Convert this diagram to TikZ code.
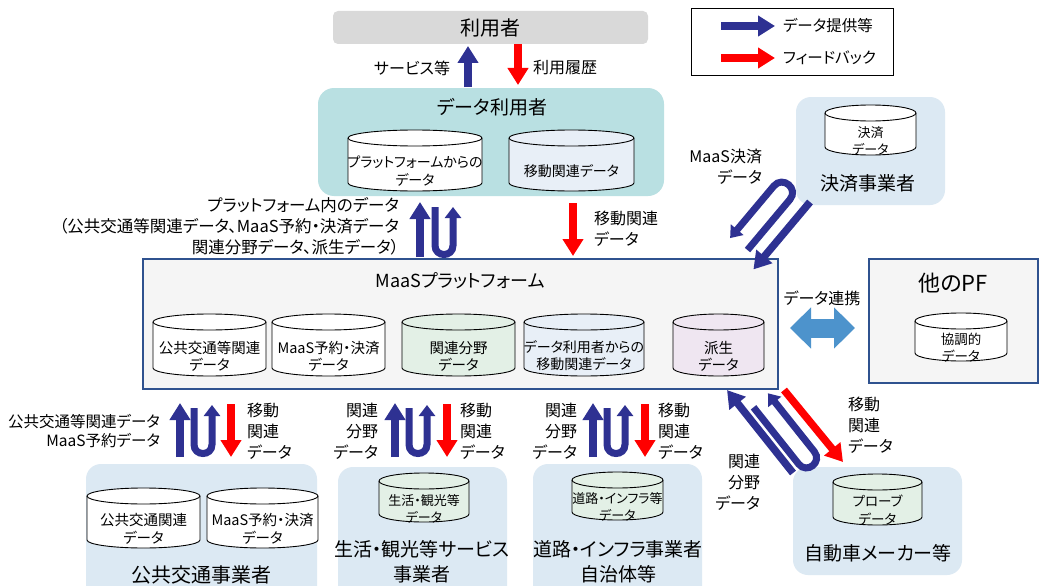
\documentclass[tikz,border=0pt]{standalone}
\usepackage{fontspec}
\setmainfont{Noto Sans CJK JP}[RawFeature=+palt]
\usetikzlibrary{arrows.meta}
\definecolor{navy}{RGB}{46,49,146}
\definecolor{redA}{RGB}{255,0,0}
\definecolor{usergray}{RGB}{217,217,217}
\definecolor{tealfill}{RGB}{185,224,226}
\definecolor{lblue}{RGB}{220,233,243}
\definecolor{pffill}{RGB}{245,245,245}
\definecolor{pfedge}{RGB}{47,82,143}
\definecolor{cylblue}{RGB}{232,239,247}
\definecolor{cylgreen}{RGB}{227,240,230}
\definecolor{cylpurple}{RGB}{239,230,241}
\definecolor{dblue}{RGB}{77,147,204}
\newcommand\dbcyl[8]{%
 \filldraw[cylline,fill=#6] ({#2-#5},{#3+8}) -- ({#2-#5},{#4-8}) arc[start angle=180,end angle=360,x radius=#5pt,y radius=8pt] -- ({#2+#5},{#3+8}) arc[start angle=0,end angle=180,x radius=#5pt,y radius=8pt] -- cycle;
 \draw[cylline] ({#2-#5},{#3+8}) arc[start angle=180,end angle=360,x radius=#5pt,y radius=8pt];
 \node[align=center,font=#7] (#1) at (#2,{(#3+16+#4)/2+3}) {#8};
}
\begin{document}
\begin{tikzpicture}[x=1pt,y=-1pt,
  every node/.style={inner sep=0pt,outer sep=0pt},
  cylline/.style={draw=black,line width=0.9pt},
  rbox/.style={draw=none,rounded corners=15pt},
  pfbox/.style={draw=pfedge,fill=pffill,line width=1.2pt},
  lbl/.style={font=\fontsize{16}{21}\selectfont},
  ttl/.style={font=\fontsize{19}{25}\selectfont,align=center},
  bArrow/.style={draw=navy,line width=7.5pt,-{Triangle[width=20pt,length=17pt]}},
  rArrow/.style={draw=redA,line width=7.5pt,-{Triangle[width=20pt,length=17pt]}},
  uArrow/.style={draw=navy,line width=7pt,-{Triangle[width=16pt,length=11pt]}},
  uLine/.style={draw=navy,line width=7pt}]
\useasboundingbox (0,0) rectangle (1041,586);
\fill[white] (0,0) rectangle (1041,586);

% ---------- containers ----------
\node[rbox,fill=usergray,rounded corners=5pt,minimum width=315pt,minimum height=33pt] (userBox) at (490.5,27.5) {};
\node[font=\fontsize{20}{24}\selectfont] (userT) at (490,28) {利用者};

\node[rbox,fill=tealfill,rounded corners=16pt,minimum width=346pt,minimum height=108pt] (duBox) at (491,142) {};
\node[ttl] (duT) at (492,107) {データ利用者};

\node[draw=black,line width=0.9pt,minimum width=202pt,minimum height=67pt] (legend) at (792,41.5) {};

\node[rbox,fill=lblue,minimum width=149pt,minimum height=108pt] (kBox) at (870.5,151) {};
\node[ttl] (kT) at (868,183) {決済事業者};

\node[pfbox,minimum width=635pt,minimum height=130pt] (pf) at (460.5,324) {};
\node[font=\fontsize{18}{22}\selectfont] (pfT) at (460,281) {MaaSプラットフォーム};

\node[pfbox,minimum width=169pt,minimum height=124pt] (opf) at (953.5,321) {};
\node[font=\fontsize{22}{26}\selectfont] (opfT) at (953,283) {他のPF};

\node[rbox,fill=lblue,minimum width=231pt,minimum height=140pt] (b1Box) at (201.5,534) {};
\node[font=\fontsize{20}{24}\selectfont] (b1T) at (201,575) {公共交通事業者};

\node[rbox,fill=lblue,minimum width=169pt,minimum height=140pt] (b2Box) at (422.5,537) {};
\node[ttl] (b2T) at (422,562) {生活・観光等サービス\\事業者};

\node[rbox,fill=lblue,minimum width=169pt,minimum height=140pt] (b3Box) at (617.5,534) {};
\node[ttl] (b3T) at (618,562) {道路・インフラ事業者\\自治体等};

\node[rbox,fill=lblue,minimum width=169pt,minimum height=108pt] (b4Box) at (877.5,521) {};
\node[ttl] (b4T) at (878,553) {自動車メーカー等};

% ---------- cylinders ----------
\dbcyl{dA}{415}{130}{191}{67}{white}{\fontsize{14}{18}\selectfont}{プラットフォームからの\\データ}
\dbcyl{dB}{571.5}{130}{191}{62.5}{cylblue}{\fontsize{14}{18}\selectfont}{移動関連データ}
\dbcyl{kC}{870.5}{105}{155}{45.5}{white}{\fontsize{13}{17}\selectfont}{決済\\データ}
\dbcyl{p1}{209.5}{314}{376}{56.5}{white}{\fontsize{14.5}{17}\selectfont}{公共交通等関連\\データ}
\dbcyl{p2}{328.5}{314}{376}{56.5}{white}{\fontsize{14.5}{17}\selectfont}{MaaS予約・決済\\データ}
\dbcyl{p3}{458.5}{314}{376}{56.5}{cylgreen}{\fontsize{14.5}{17}\selectfont}{関連分野\\データ}
\dbcyl{p4}{584}{314}{376}{60}{cylblue}{\fontsize{14}{17}\selectfont}{データ利用者からの\\移動関連データ}
\dbcyl{p5}{718.5}{314}{376}{45.5}{cylpurple}{\fontsize{14.5}{17}\selectfont}{派生\\データ}
\dbcyl{oC}{961}{313}{361}{46}{white}{\fontsize{13.5}{17}\selectfont}{協調的\\データ}
\dbcyl{bc1}{143.5}{488}{548}{56.5}{white}{\fontsize{14.5}{18}\selectfont}{公共交通関連\\データ}
\dbcyl{bc2}{262.5}{488}{548}{55.5}{white}{\fontsize{14.5}{18}\selectfont}{MaaS予約・決済\\データ}
\dbcyl{bc3}{424}{473}{522}{45}{cylgreen}{\fontsize{13}{17}\selectfont}{生活・観光等\\データ}
\dbcyl{bc4}{617.5}{472}{520}{45.5}{cylgreen}{\fontsize{13}{17}\selectfont}{道路・インフラ等\\データ}
\dbcyl{bc5}{877.5}{474}{525}{44.5}{cylgreen}{\fontsize{13.5}{18}\selectfont}{プローブ\\データ}

% ---------- legend ----------
\coordinate (lg1s) at (721,26); \coordinate (lg1e) at (775,26);
\coordinate (lg2s) at (721,58); \coordinate (lg2e) at (775,58);
\draw[bArrow] (lg1s) -- (lg1e);
\draw[rArrow] (lg2s) -- (lg2e);
\node[font=\fontsize{15.5}{19}\selectfont,anchor=west] (lgT1) at (783,26) {データ提供等};
\node[font=\fontsize{15.5}{19}\selectfont,anchor=west] (lgT2) at (783,58) {フィードバック};

% ---------- user <-> data user ----------
\coordinate (svcS) at (468,87); \coordinate (svcE) at (468,46);
\coordinate (histS) at (518,44); \coordinate (histE) at (518,85);
\draw[bArrow] (svcS) -- (svcE);
\draw[rArrow] (histS) -- (histE);
\node[lbl,anchor=east] (svcL) at (450,68) {サービス等};
\node[lbl,anchor=west] (histL) at (533,68) {利用履歴};

% ---------- PF <-> data user ----------
\coordinate (pdS) at (420,257); \coordinate (pdE) at (420,202);
\draw[bArrow] (pdS) -- (pdE);
\draw[uArrow] (435,207) -- (435,245.5) .. controls (435,257.5) and (453,257.5) .. (453,245.5) -- (453,207);
\node[font=\fontsize{16.5}{21}\selectfont,anchor=east,align=right] (pdL) at (399,226) {プラットフォーム内のデータ\\（公共交通等関連データ、MaaS予約・決済データ\\関連分野データ、派生データ）};
\coordinate (mvS) at (573,203); \coordinate (mvE) at (573,256);
\draw[rArrow] (mvS) -- (mvE);
\node[lbl,anchor=west,align=left] (mvL) at (594,229) {移動関連\\データ};

% ---------- settlement ----------
\begin{scope}[shift={(810,202)},rotate=230]
 \coordinate (kS) at (0,0); \coordinate (kE) at (88,0);
 \draw[bArrow] (kS) -- (kE);
 \draw[uArrow] (77,17) -- (11,17) .. controls (-3,17) and (-3,38) .. (11,38) -- (79,38);
\end{scope}
\node[lbl,anchor=east,align=right] (kL) at (762,167) {MaaS決済\\データ};

% ---------- other PF ----------
\coordinate (dlS) at (790,328); \coordinate (dlE) at (855,328);
\draw[draw=dblue,line width=19pt,{Triangle[width=40pt,length=21pt]}-{Triangle[width=40pt,length=21pt]}] (dlS) -- (dlE);
\node[lbl] (dlL) at (822,298) {データ連携};

% ---------- bottom groups ----------
\draw[bArrow] (180,457) -- (180,403);
\draw[uArrow] (194,408) -- (194,444.5) .. controls (194,456.5) and (212,456.5) .. (212,444.5) -- (212,405);
\draw[rArrow] (231,404) -- (231,457);
\node[font=\fontsize{15.5}{19}\selectfont,anchor=east,align=right] (g1L) at (160,431) {公共交通等関連データ\\MaaS予約データ};
\node[lbl,anchor=west,align=left] (g1R) at (247,431) {移動\\関連\\データ};

\draw[bArrow] (395,457) -- (395,403);
\draw[uArrow] (409,408) -- (409,444.5) .. controls (409,456.5) and (427,456.5) .. (427,444.5) -- (427,405);
\draw[rArrow] (447,404) -- (447,457);
\node[lbl,anchor=east,align=right] (g2L) at (378,431) {関連\\分野\\データ};
\node[lbl,anchor=west,align=left] (g2R) at (460,431) {移動\\関連\\データ};

\draw[bArrow] (593,457) -- (593,403);
\draw[uArrow] (607,408) -- (607,444.5) .. controls (607,456.5) and (625,456.5) .. (625,444.5) -- (625,405);
\draw[rArrow] (645,404) -- (645,457);
\node[lbl,anchor=east,align=right] (g3L) at (577,431) {関連\\分野\\データ};
\node[lbl,anchor=west,align=left] (g3R) at (658,431) {移動\\関連\\データ};

% ---------- car makers ----------
\begin{scope}[shift={(793,473)},rotate=128.5]
 \coordinate (cS) at (0,0); \coordinate (cE) at (106,0);
 \draw[bArrow] (cS) -- (cE);
 \draw[uArrow] (76,10) -- (3.5,10) .. controls (-9.8,10) and (-9.8,30) .. (3.5,30) -- (78,30);
\end{scope}
\coordinate (crS) at (784,390); \coordinate (crE) at (843,462);
\draw[rArrow] (crS) -- (crE);
\node[lbl,anchor=west,align=left] (cR) at (848,425) {移動\\関連\\データ};
\node[lbl,anchor=east,align=right] (cL) at (760,482) {関連\\分野\\データ};
\end{tikzpicture}
\end{document}
